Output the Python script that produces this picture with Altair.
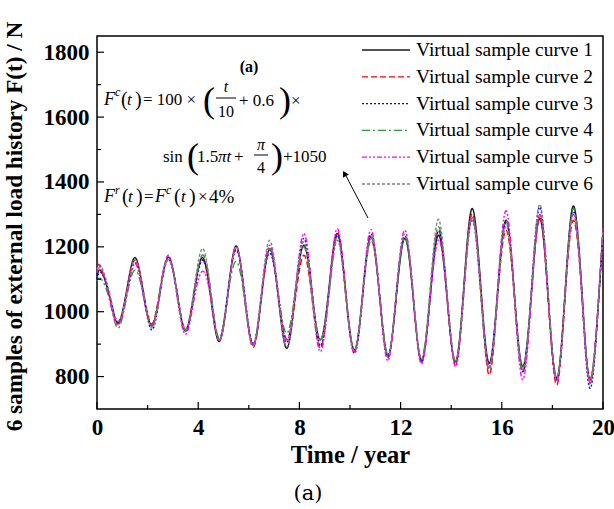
import altair as alt
import pandas as pd

# Sample times (years): start, every peak / mean crossing / trough, end
times = [0, 0.17, 0.5, 0.83, 1.17, 1.5, 1.83, 2.17, 2.5, 2.83,
         3.17, 3.5, 3.83, 4.17, 4.5, 4.83, 5.17, 5.5, 5.83, 6.17,
         6.5, 6.83, 7.17, 7.5, 7.83, 8.17, 8.5, 8.83, 9.17, 9.5,
         9.83, 10.17, 10.5, 10.83, 11.17, 11.5, 11.83, 12.17, 12.5, 12.83,
         13.17, 13.5, 13.83, 14.17, 14.5, 14.83, 15.17, 15.5, 15.83, 16.17,
         16.5, 16.83, 17.17, 17.5, 17.83, 18.17, 18.5, 18.83, 19.17, 19.5,
         19.83, 20]

curve_1 = [1110, 1125, 1045, 966, 1065, 1167, 1060, 958, 1065, 1168,
           1055, 940, 1055, 1167, 1040, 908, 1055, 1203, 1050, 897,
           1045, 1192, 1040, 887, 1045, 1205, 1060, 913, 1075, 1241,
           1060, 882, 1055, 1231, 1045, 862, 1045, 1226, 1040, 851,
           1045, 1236, 1045, 846, 1080, 1318, 1080, 841, 1060, 1282,
           1055, 831, 1060, 1287, 1045, 795, 1060, 1326, 1060, 790,
           1040, 1250]
curve_2 = [1150, 1130, 1050, 962, 1060, 1159, 1065, 962, 1075, 1165,
           1060, 945, 1060, 1160, 1045, 912, 1050, 1195, 1045, 890,
           1040, 1195, 1050, 915, 1035, 1174, 1040, 887, 1065, 1245,
           1065, 878, 1050, 1220, 1055, 858, 1050, 1235, 1045, 845,
           1050, 1250, 1050, 840, 1070, 1302, 1065, 805, 1040, 1251,
           1040, 815, 1050, 1290, 1040, 774, 1040, 1282, 1045, 792,
           1045, 1240]
curve_3 = [1100, 1120, 1050, 968, 1055, 1150, 1055, 944, 1060, 1162,
           1050, 945, 1050, 1159, 1055, 915, 1060, 1190, 1060, 900,
           1055, 1180, 1050, 905, 1060, 1226, 1065, 895, 1060, 1235,
           1055, 872, 1045, 1240, 1050, 865, 1055, 1232, 1050, 846,
           1050, 1250, 1060, 836, 1060, 1285, 1055, 830, 1050, 1275,
           1050, 815, 1065, 1323, 1055, 790, 1050, 1310, 1045, 764,
           1035, 1245]
curve_4 = [1095, 1100, 1035, 949, 1045, 1128, 1050, 955, 1070, 1165,
           1055, 942, 1050, 1175, 1060, 920, 1050, 1155, 1040, 895,
           1050, 1195, 1055, 933, 1060, 1200, 1055, 915, 1055, 1231,
           1050, 880, 1045, 1230, 1060, 868, 1050, 1230, 1045, 855,
           1065, 1262, 1060, 846, 1070, 1297, 1065, 820, 1050, 1280,
           1045, 820, 1055, 1300, 1055, 795, 1055, 1318, 1060, 780,
           1045, 1255]
curve_5 = [1120, 1135, 1040, 959, 1050, 1149, 1050, 955, 1065, 1174,
           1045, 930, 1035, 1125, 1040, 910, 1055, 1200, 1050, 900,
           1050, 1205, 1045, 908, 1055, 1241, 1060, 877, 1065, 1256,
           1060, 872, 1060, 1253, 1045, 849, 1060, 1251, 1045, 839,
           1040, 1220, 1050, 831, 1065, 1292, 1065, 825, 1065, 1311,
           1045, 790, 1045, 1300, 1045, 785, 1050, 1300, 1045, 780,
           1050, 1260]
curve_6 = [1130, 1140, 1055, 970, 1060, 1160, 1060, 950, 1060, 1160,
           1055, 945, 1065, 1195, 1060, 912, 1050, 1200, 1050, 895,
           1060, 1220, 1050, 892, 1050, 1215, 1050, 910, 1055, 1220,
           1050, 880, 1050, 1225, 1050, 860, 1060, 1240, 1055, 852,
           1070, 1285, 1060, 848, 1060, 1290, 1055, 830, 1045, 1265,
           1050, 825, 1070, 1331, 1060, 792, 1050, 1305, 1050, 785,
           1045, 1250]

names = ["Virtual sample curve 1", "Virtual sample curve 2", "Virtual sample curve 3",
         "Virtual sample curve 4", "Virtual sample curve 5", "Virtual sample curve 6"]
series = [curve_1, curve_2, curve_3, curve_4, curve_5, curve_6]
colors = ["#1a1a1a", "#ff0000", "#0000ff", "#2f9a2f", "#ff00ff", "#808080"]
dashes = [[1, 0], [6, 3], [2, 2], [8, 3, 2, 3], [5, 2, 2, 2, 2, 2], [3, 2]]

y_major = [800, 1000, 1200, 1400, 1600, 1800]
y_minor = [900, 1100, 1300, 1500, 1700]
x_major = [0, 4, 8, 12, 16, 20]
x_minor = [2, 6, 10, 14, 18]

y_title = "6 samples of external load history F(t) / N"

W, H = 506, 373
SERIF = "Liberation Serif"

rows = []
for name, vals in zip(names, series):
    assert len(vals) == len(times)
    for t, v in zip(times, vals):
        rows.append({"t": t, "F": v, "curve": name})
df = pd.DataFrame(rows)

x_scale = alt.Scale(domain=[0, 20], nice=False, zero=False)
y_scale = alt.Scale(domain=[700, 1850], nice=False, zero=False)
color_scale = alt.Scale(domain=names, range=colors)
dash_scale = alt.Scale(domain=names, range=dashes)

lines = alt.Chart(df).mark_line(interpolate="natural", strokeWidth=1.4).encode(
    x=alt.X("t:Q", scale=x_scale, title="Time / year",
            axis=alt.Axis(values=x_major, format="d", labelFlush=False)),
    y=alt.Y("F:Q", scale=y_scale, title=None,
            axis=alt.Axis(values=y_major, format="d", labelFlush=False)),
    color=alt.Color("curve:N", scale=color_scale, legend=None),
    strokeDash=alt.StrokeDash("curve:N", scale=dash_scale, legend=None),
    order=alt.Order("t:Q"),
)

# Vertical axis title, centred on the plot height
y_title_mark = alt.Chart(pd.DataFrame({"text": [y_title]})).mark_text(
    font=SERIF, fontSize=23.2, fontWeight="bold", color="black",
    angle=270, align="center", baseline="middle").encode(
    x=alt.value(-82), y=alt.value(H / 2 + 4), text="text:N")

# Legend drawn in the upper right of the plot area: one row per curve
ROW0, ROW_STEP = 14, 26.8
legend_df = pd.DataFrame({"curve": names})
legend_df["ly"] = [ROW0 + ROW_STEP * i for i in range(len(names))]
legend_keys = alt.Chart(legend_df).mark_rule(strokeWidth=1.3).encode(
    x=alt.value(265), x2=alt.value(313), y=alt.Y("ly:Q", scale=None),
    color=alt.Color("curve:N", scale=color_scale, legend=None),
    strokeDash=alt.StrokeDash("curve:N", scale=dash_scale, legend=None),
)
legend_labels = alt.Chart(legend_df).mark_text(
    font=SERIF, fontSize=19.5, align="left", baseline="middle", color="black").encode(
    x=alt.value(319), y=alt.Y("ly:Q", scale=None), text="curve:N")

# Inward ticks on the left and bottom frame edges
def y_ticks(vals, length):
    return alt.Chart(pd.DataFrame({"v": vals})).mark_rule(color="black", strokeWidth=1.2).encode(
        y=alt.Y("v:Q", scale=y_scale), x=alt.value(0), x2=alt.value(length))

def x_ticks(vals, length):
    return alt.Chart(pd.DataFrame({"v": vals})).mark_rule(color="black", strokeWidth=1.2).encode(
        x=alt.X("v:Q", scale=x_scale), y=alt.value(H), y2=alt.value(H - length))

ticks = [y_ticks(y_major, 7), y_ticks(y_minor, 4), x_ticks(x_major, 7), x_ticks(x_minor, 4)]

# Formula annotation, laid out in plot-area pixels
upright = pd.DataFrame([
    ("(", 24, 64, 20), (")", 38, 64, 20), ("= 100 ×", 46, 64, 17),
    ("(", 106, 65, 36), ("+ 0.6", 142, 65, 17), (")", 182, 65, 36), ("×", 194, 65, 17),
    ("sin", 66, 121, 17), ("(", 90, 121, 36), ("1.5", 100, 121, 17), ("+", 137, 121, 17),
    (")", 174, 121, 36), ("+1050", 186, 121, 17),
    ("(", 25, 161, 20), (")", 39, 161, 20), ("=", 47, 161, 17),
    ("(", 77, 161, 20), (")", 92, 161, 20), ("×", 101, 161, 17), ("4%", 112, 161, 19),
], columns=["text", "x", "y", "size"])
italic = pd.DataFrame([
    ("F", 7, 64, 18), ("c", 18, 56, 12), ("t", 30, 64, 17),
    ("πt", 121, 121, 17),
    ("F", 7, 161, 18), ("r", 18, 154, 12), ("t", 31, 161, 17),
    ("F", 58, 161, 18), ("c", 69, 154, 12), ("t", 84, 161, 17),
], columns=["text", "x", "y", "size"])
stacked = pd.DataFrame([
    ("t", 129, 51, 16, "italic"), ("10", 129, 76, 16, "normal"),
    ("π", 164, 109, 16, "italic"), ("4", 164, 132, 16, "normal"),
], columns=["text", "x", "y", "size", "style"])
bars = pd.DataFrame({"x": [119, 157], "x2": [139, 171], "y": [62, 119]})

def text_layer(data, align, style):
    return alt.Chart(data).mark_text(font=SERIF, align=align, baseline="middle",
                                     fontStyle=style, color="black").encode(
        x=alt.X("x:Q", scale=None), y=alt.Y("y:Q", scale=None),
        size=alt.Size("size:Q", scale=None, legend=None), text="text:N")

formula = [
    text_layer(upright, "left", "normal"),
    text_layer(italic, "left", "italic"),
    text_layer(stacked[stacked["style"] == "italic"], "center", "italic"),
    text_layer(stacked[stacked["style"] == "normal"], "center", "normal"),
    alt.Chart(bars).mark_rule(color="black", strokeWidth=1).encode(
        x=alt.X("x:Q", scale=None), x2="x2:Q", y=alt.Y("y:Q", scale=None)),
]

panel_tag = alt.Chart(pd.DataFrame({"text": ["(a)"], "x": [152], "y": [31]})).mark_text(
    font=SERIF, fontSize=16, fontWeight="bold", color="black").encode(
    x=alt.X("x:Q", scale=None), y=alt.Y("y:Q", scale=None), text="text:N")

caption = alt.Chart(pd.DataFrame({"text": ["(a)"], "x": [211], "y": [458]})).mark_text(
    font="DejaVu Serif", fontSize=21, color="black").encode(
    x=alt.X("x:Q", scale=None), y=alt.Y("y:Q", scale=None), text="text:N")

arrow_df = pd.DataFrame({"x": [271], "y": [182], "x2": [247], "y2": [136]})
arrow_line = alt.Chart(arrow_df).mark_rule(color="black", strokeWidth=1).encode(
    x=alt.X("x:Q", scale=None), y=alt.Y("y:Q", scale=None), x2="x2:Q", y2="y2:Q")
arrow_head = alt.Chart(pd.DataFrame({"x": [247.5], "y": [137.5]})).mark_point(
    shape="triangle-up", filled=True, size=45, angle=332, color="black", opacity=1).encode(
    x=alt.X("x:Q", scale=None), y=alt.Y("y:Q", scale=None))

chart = alt.layer(
    lines, *ticks, legend_keys, legend_labels, *formula, panel_tag, caption,
    arrow_line, arrow_head, y_title_mark
).properties(
    width=W, height=H,
    padding={"left": 97, "top": 36, "right": 11, "bottom": 100},
    autosize=alt.AutoSizeParams(type="none"),
    background="white",
).configure_view(
    stroke="black", strokeWidth=1.5,
).configure_axis(
    domain=False, ticks=False, grid=False,
    labelFont=SERIF, labelFontSize=23, labelFontWeight="bold", labelColor="black",
    titleFont=SERIF, titleFontSize=24.5, titleFontWeight="bold", titleColor="black",
).configure_axisX(
    labelPadding=7, titlePadding=4,
).configure_axisY(
    labelPadding=8,
)

chart.save("out.html", embed_options={"renderer": "svg", "actions": False})
